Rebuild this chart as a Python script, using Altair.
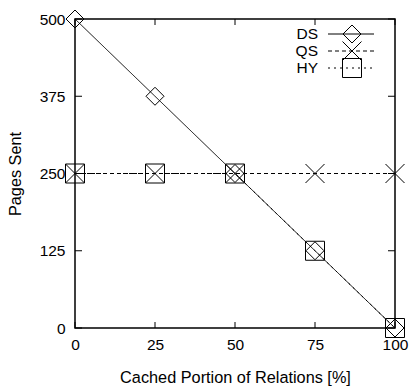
import altair as alt
import pandas as pd

x_vals = [0, 25, 50, 75, 100]
ds_vals = [500, 375, 250, 125, 0]
qs_vals = [250, 250, 250, 250, 250]
hy_vals = [250, 250, 250, 125, 0]
x_ticks = [0, 25, 50, 75, 100]
y_ticks = [0, 125, 250, 375, 500]

W, H = 320, 309
FONT = "Liberation Sans"
FS = 15.5
TFS = 16.3

df = pd.DataFrame({"x": x_vals * 3,
                   "y": ds_vals + qs_vals + hy_vals,
                   "s": ["DS"] * 5 + ["QS"] * 5 + ["HY"] * 5})

xs = alt.Scale(domain=[0, 100], nice=False)
ys = alt.Scale(domain=[0, 500], nice=False)

X = alt.X("x:Q", scale=xs, axis=alt.Axis(values=x_ticks, ticks=False, domain=False, grid=False,
                                         labelPadding=9, title="Cached Portion of Relations [%]",
                                         titlePadding=17, labelFontSize=FS, titleFontSize=TFS,
                                         labelFont=FONT, titleFont=FONT, labelColor="black",
                                         titleColor="black", titleFontWeight="normal",
                                         labelFlush=False))
Y = alt.Y("y:Q", scale=ys, axis=alt.Axis(values=y_ticks, ticks=False, domain=False, grid=False,
                                         labelPadding=10, title="Pages Sent", titlePadding=16,
                                         labelFontSize=FS, titleFontSize=TFS, labelFont=FONT,
                                         titleFont=FONT, labelColor="black", titleColor="black",
                                         titleFontWeight="normal", labelFlush=False))

shapes = {"DS": "diamond", "QS": "M-1,-1L1,1M-1,1L1,-1", "HY": "square"}
sizes = {"DS": 324, "QS": 361, "HY": 361}
dashes = {"DS": [1, 0], "QS": [4, 3], "HY": [2, 4]}

layers = []
for s in ["DS", "QS", "HY"]:
    base = alt.Chart(df).transform_filter(alt.datum.s == s)
    layers.append(base.mark_line(color="black", strokeWidth=1, strokeDash=dashes[s]).encode(x=X, y=Y))
    layers.append(base.mark_point(shape=shapes[s], size=sizes[s], filled=False, color="black",
                                  strokeWidth=1, opacity=1).encode(x=X, y=Y))

# inward ticks (mirrored on all sides)
xt = alt.Chart(pd.DataFrame({"x": x_ticks}))
yt = alt.Chart(pd.DataFrame({"y": y_ticks}))
xsc = alt.X("x:Q", scale=xs)
ysc = alt.Y("y:Q", scale=ys)
layers.append(xt.mark_rule(color="black", strokeWidth=1).encode(x=xsc, y=alt.value(H), y2=alt.value(H - 6)))
layers.append(xt.mark_rule(color="black", strokeWidth=1).encode(x=xsc, y=alt.value(0), y2=alt.value(6)))
layers.append(yt.mark_rule(color="black", strokeWidth=1).encode(y=ysc, x=alt.value(0), x2=alt.value(7)))
layers.append(yt.mark_rule(color="black", strokeWidth=1).encode(y=ysc, x=alt.value(W), x2=alt.value(W - 7)))

# legend
leg = pd.DataFrame({"n": [0]})
for i, s in enumerate(["DS", "QS", "HY"]):
    ly = 15 + i * 17
    lc = alt.Chart(leg)
    layers.append(lc.mark_text(text=s, align="right", baseline="middle", fontSize=FS, font=FONT,
                               color="black").encode(x=alt.value(243), y=alt.value(ly)))
    layers.append(lc.mark_rule(color="black", strokeWidth=1, strokeDash=dashes[s]).encode(
        x=alt.value(253), x2=alt.value(299), y=alt.value(ly)))
    layers.append(lc.mark_point(shape=shapes[s], size=sizes[s], filled=False, color="black",
                                strokeWidth=1, opacity=1).encode(x=alt.value(277), y=alt.value(ly)))

chart = alt.layer(*layers).properties(
    width=W, height=H,
    autosize=alt.AutoSizeParams(type="none"),
    padding={"left": 75, "top": 19, "right": 14, "bottom": 58},
    background="white",
).configure_view(stroke="black", strokeWidth=1.5)

chart.save("out.html", embed_options={"renderer": "svg", "actions": False})
